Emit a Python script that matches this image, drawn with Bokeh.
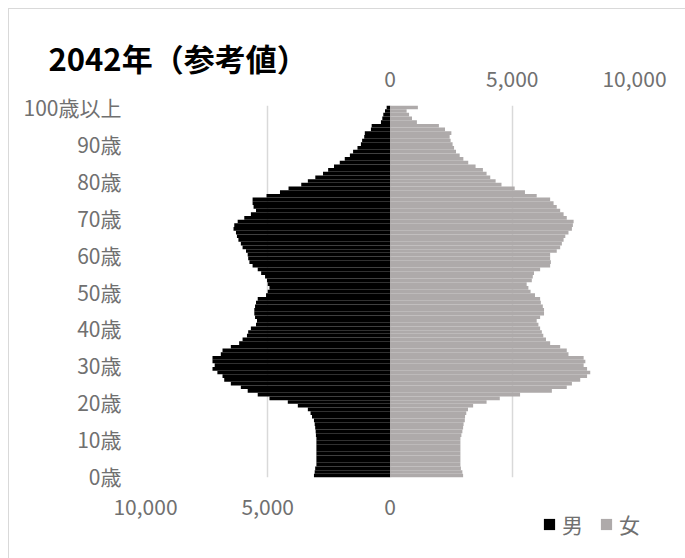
from bokeh.plotting import figure
from bokeh.models import Range1d, FixedTicker, LinearAxis, Legend, LegendItem
from bokeh.embed import file_html
from bokeh.resources import INLINE

ages = list(range(0, 101))

male = [3110, 3080, 3060, 3010, 3010, 3010, 3010, 3010, 3010, 3010,
        3010, 3030, 3040, 3060, 3080, 3110, 3190, 3250, 3360, 3770,
        4180, 4930, 5410, 5820, 6100, 6510, 6780, 6850, 7060, 7260,
        7170, 7260, 7260, 6920, 6850, 6510, 6170, 6030, 5850, 5800,
        5690, 5480, 5440, 5520, 5550, 5550, 5520, 5480, 5410, 5070,
        5000, 4930, 5000, 5030, 5110, 5270, 5410, 5620, 5750, 5800,
        5820, 5890, 6030, 6100, 6200, 6260, 6300, 6400, 6370, 6230,
        5960, 5690, 5480, 5580, 5620, 5620, 5050, 4500, 4150, 3630,
        3360, 3055, 2740, 2530, 2290, 2055, 1850, 1640, 1510, 1330,
        1190, 1140, 1055, 1030, 780, 750, 370, 315, 274, 205,
        137]

female = [2990, 2960, 2900, 2880, 2880, 2880, 2880, 2880, 2880, 2880,
          2880, 2920, 2960, 2990, 3010, 3060, 3070, 3120, 3190, 3400,
          3950, 4490, 5320, 6620, 7230, 7440, 7780, 8060, 8190, 8060,
          7920, 7990, 7920, 7300, 7230, 6960, 6550, 6380, 6270, 6210,
          6140, 6070, 6000, 6140, 6300, 6300, 6250, 6170, 6140, 5930,
          5750, 5660, 5590, 5800, 5840, 5890, 6140, 6550, 6580, 6550,
          6550, 6820, 6960, 7030, 7100, 7170, 7300, 7440, 7480, 7510,
          7230, 7100, 6960, 6820, 6690, 6550, 6000, 5520, 5100, 4560,
          4320, 4100, 3950, 3800, 3500, 3200, 3000, 2850, 2700, 2620,
          2560, 2480, 2440, 2510, 2250, 2000, 1100, 900, 780, 680,
          1140]

y_ticks = [0, 10, 20, 30, 40, 50, 60, 70, 80, 90, 100]
y_labels = ["0歳", "10歳", "20歳", "30歳", "40歳", "50歳", "60歳", "70歳", "80歳", "90歳", "100歳以上"]
bottom_ticks = [-10000, -5000, 0]
bottom_labels = ["10,000", "5,000", "0"]
top_ticks = [0, 5000, 10000]
top_labels = ["0", "5,000", "10,000"]
grid_ticks = [-10000, -5000, 0, 5000, 10000]
title_text = "2042年（参考値）"
legend_names = ["男", "女"]
male_color = "#000000"
female_color = "#AEAAAA"

FONT = "Noto Sans CJK JP"
LABEL_COLOR = "#707070"
W, H = 676, 549

p = figure(width=W, height=H, output_backend="svg", toolbar_location=None,
           x_range=Range1d(-10000, 10000), y_range=Range1d(-0.5, 100.5),
           min_border_left=136, min_border_right=51, min_border_top=96, min_border_bottom=81,
           background_fill_color="white", border_fill_color="white",
           title=title_text,
           styles={"margin-left": "9px", "margin-top": "9px", "outline": "1px solid #d9d9d9"})
p.outline_line_color = None

r_m = p.hbar(y=ages, left=[-v for v in male], right=0, height=1.0,
             fill_color=male_color, line_color=None)
r_f = p.hbar(y=ages, left=0, right=female, height=1.0,
             fill_color=female_color, line_color=None)

# title
p.title.text_font = FONT
p.title.text_font_size = "31px"
p.title.text_font_style = "bold"
p.title.text_color = "black"
p.title.align = "left"
p.title.offset = -97
p.title.standoff = -25

# grid
p.ygrid.grid_line_color = None
p.xgrid.ticker = FixedTicker(ticks=grid_ticks)
p.xgrid.grid_line_color = "#d9d9d9"
p.xgrid.grid_line_width = 1.5

def style_axis(ax, size, standoff):
    ax.axis_line_color = None
    ax.major_tick_line_color = None
    ax.minor_tick_line_color = None
    ax.major_tick_out = 0
    ax.major_tick_in = 0
    ax.major_label_text_font = FONT
    ax.major_label_text_font_size = size
    ax.major_label_text_color = LABEL_COLOR
    ax.major_label_standoff = standoff

# bottom axis (male)
bx = p.xaxis[0]
bx.ticker = FixedTicker(ticks=bottom_ticks)
bx.major_label_overrides = {t: l for t, l in zip(bottom_ticks, bottom_labels)}
style_axis(bx, "21px", 21)

# top axis (female)
tx = LinearAxis(ticker=FixedTicker(ticks=top_ticks),
                major_label_overrides={t: l for t, l in zip(top_ticks, top_labels)})
style_axis(tx, "21px", 19)
p.add_layout(tx, "above")

# left axis (ages)
ly = p.yaxis[0]
ly.ticker = FixedTicker(ticks=y_ticks)
ly.major_label_overrides = {t: l for t, l in zip(y_ticks, y_labels)}
style_axis(ly, "21px", 24)

# legend: a transparent figure of the same size laid exactly over the chart
# (absolutely positioned), whose frame is the whole canvas so it is not clipped
leg = figure(width=W, height=H, output_backend="svg", toolbar_location=None,
             title=None, x_axis_location=None, y_axis_location=None, min_border=0,
             x_range=Range1d(0, 1), y_range=Range1d(0, 1),
             border_fill_alpha=0, background_fill_alpha=0,
             styles={"position": "absolute", "left": "9px", "top": "9px"})
leg.outline_line_color = None
leg.grid.visible = False
# one off-range bar per series so the legend swatches get their colours
lm = leg.hbar(y=[5], left=[5], right=[6], height=1, fill_color=male_color, line_color=None)
lf = leg.hbar(y=[5], left=[5], right=[6], height=1, fill_color=female_color, line_color=None)
legend = Legend(items=[LegendItem(label=legend_names[0], renderers=[lm]),
                       LegendItem(label=legend_names[1], renderers=[lf])],
                orientation="horizontal", location=(533, 19),
                glyph_width=14, glyph_height=14, label_standoff=6, spacing=16,
                label_text_font=FONT, label_text_font_size="21px",
                label_text_color=LABEL_COLOR, label_height=24,
                padding=0, margin=0, border_line_color=None,
                background_fill_alpha=0)
leg.add_layout(legend)

open("out.html", "w").write(file_html([p, leg], INLINE))
